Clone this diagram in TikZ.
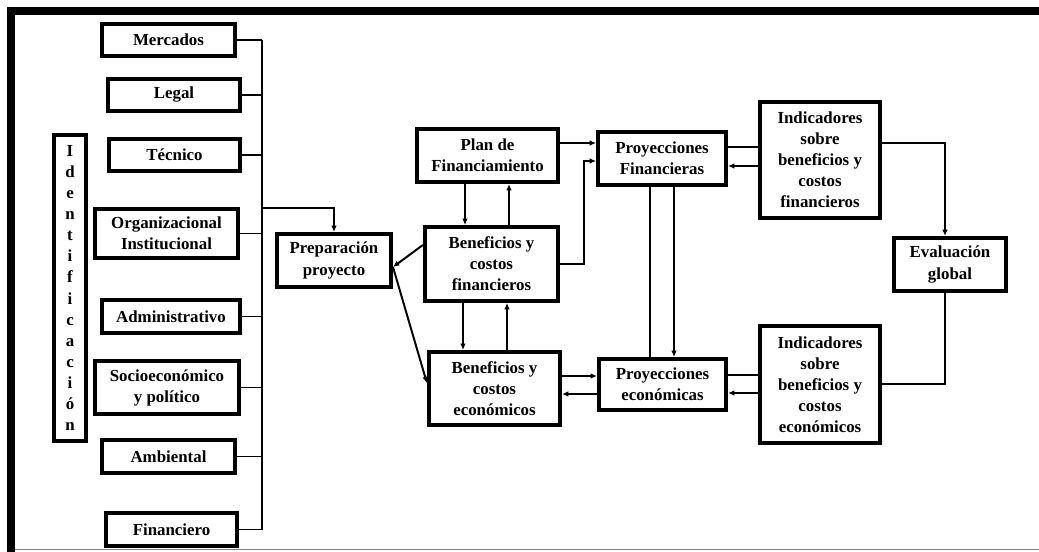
\documentclass[tikz,border=0pt]{standalone}
\usepackage{fontspec}
\setmainfont{Liberation Serif}
\usepackage{tikz}
\usetikzlibrary{arrows.meta}

\begin{document}
\begin{tikzpicture}[
  x=0.025cm, y=-0.025cm,
  box/.style={rectangle, draw, line width=2.8pt, align=center, inner sep=1pt,
    font=\bfseries\fontsize{12}{15}\selectfont},
  link/.style={line width=1.4pt},
  arrow/.style={-{Latex[length=4.5pt,width=4pt]}, line width=1.4pt}
]
\useasboundingbox (0,0) rectangle (1039,552);

% marco
\draw[line width=5.7pt] (11,552) -- (11,11) -- (1039,11);
\draw[gray, line width=0.8pt] (15,549.5) -- (1039,549.5);

% columna de estudios
\node[box, minimum width=3.33cm, minimum height=0.8cm] (merc) at (168.5,40) {Mercados};
\node[box, minimum width=3.3cm, minimum height=0.8cm] (legal) at (174,95) {Legal};
\node[box, minimum width=3.28cm, minimum height=0.8cm] (tec) at (174.5,155) {Técnico};
\node[box, minimum width=3.58cm, minimum height=1.23cm] (org) at (166.5,233.5) {Organizacional\\Institucional};
\node[box, minimum width=3.45cm, minimum height=0.83cm] (adm) at (171,316.5) {Administrativo};
\node[box, minimum width=3.6cm, minimum height=1.33cm] (socio) at (167,387.5) {Socioeconómico\\y político};
\node[box, minimum width=3.33cm, minimum height=0.83cm] (amb) at (168.5,456.5) {Ambiental};
\node[box, minimum width=3.28cm, minimum height=0.83cm] (finan) at (171.5,529.5) {Financiero};

\node[box, minimum width=0.8cm, minimum height=7.65cm] (ident) at (70,288)
  {I\\d\\e\\n\\t\\i\\f\\i\\c\\a\\c\\i\\ó\\n};

% bloque central
\node[box, minimum width=2.85cm, minimum height=1.33cm] (prep) at (334,260.5) {Preparación\\proyecto};
\node[box, minimum width=3.53cm, minimum height=1.33cm] (plan) at (487.5,155.5) {Plan de\\Financiamiento};
\node[box, minimum width=3.33cm, minimum height=1.85cm] (benfin) at (491.5,264) {Beneficios y\\costos\\financieros};
\node[box, minimum width=3.28cm, minimum height=1.83cm] (beneco) at (494.5,388.5) {Beneficios y\\costos\\económicos};
\node[box, minimum width=3.2cm, minimum height=1.33cm] (proyfin) at (662,158.5) {Proyecciones\\Financieras};
\node[box, minimum width=3.18cm, minimum height=1.28cm] (proyeco) at (662.5,384.5) {Proyecciones\\económicas};

% indicadores
\node[box, minimum width=3.0cm, minimum height=2.9cm] (indfin) at (820,160) {Indicadores\\sobre\\beneficios y\\costos\\financieros};
\node[box, minimum width=3.0cm, minimum height=2.93cm] (indeco) at (820,384.5) {Indicadores\\sobre\\beneficios y\\costos\\económicos};
\node[box, minimum width=2.8cm, minimum height=1.33cm] (eval) at (950,264.5) {Evaluación\\global};

% barra colectora
\draw[link] (merc.east) -- (merc.east -| 262,0);
\draw[link] (legal.east) -- (legal.east -| 262,0);
\draw[link] (tec.east) -- (tec.east -| 262,0);
\draw[link] (org.east) -- (org.east -| 262,0);
\draw[link] (adm.east) -- (adm.east -| 262,0);
\draw[link] (socio.east) -- (socio.east -| 262,0);
\draw[link] (amb.east) -- (amb.east -| 262,0);
\draw[link] (finan.east) -- (finan.east -| 262,0);
\draw[link] (merc.east -| 262,0) -- (finan.east -| 262,0);
\coordinate (tap) at (262,208);
\draw[arrow] (tap) -| (prep.north);

% preparacion
\draw[arrow] (benfin.west |- 0,245) -- (prep.east |- 0,267);
\draw[arrow] (prep.east |- 0,267) -- (beneco.west |- 0,383);

% beneficios
\draw[arrow] (plan.south -| 465,0) -- (benfin.north -| 465,0);
\draw[arrow] (benfin.north -| 509,0) -- (plan.south -| 509,0);
\draw[arrow] (benfin.south -| 463,0) -- (beneco.north -| 463,0);
\draw[arrow] (beneco.north -| 507,0) -- (benfin.south -| 507,0);

% proyecciones
\draw[arrow] (plan.east |- 0,143) -- (proyfin.west |- 0,143);
\coordinate (bend) at (584,161);
\draw[arrow] (benfin.east) -| (bend) -- (proyfin.west |- bend);
\draw[arrow] (beneco.east |- 0,376) -- (proyeco.west |- 0,376);
\draw[arrow] (proyeco.west |- 0,394) -- (beneco.east |- 0,394);
\draw[link] (proyfin.south -| 650,0) -- (proyeco.north -| 650,0);
\draw[arrow] (proyfin.south -| 674,0) -- (proyeco.north -| 674,0);

% indicadores
\draw[link] (indfin.west |- 0,147) -- (proyfin.east |- 0,147);
\draw[arrow] (indfin.west |- 0,166) -- (proyfin.east |- 0,166);
\draw[link] (indeco.west |- 0,375) -- (proyeco.east |- 0,375);
\draw[arrow] (indeco.west |- 0,393) -- (proyeco.east |- 0,393);

% evaluacion
\draw[arrow] (indfin.east |- 0,143) -| (eval.north -| 945,0);
\draw[link] (eval.south -| 945,0) |- (indeco.east |- 0,384);

\end{tikzpicture}
\end{document}
